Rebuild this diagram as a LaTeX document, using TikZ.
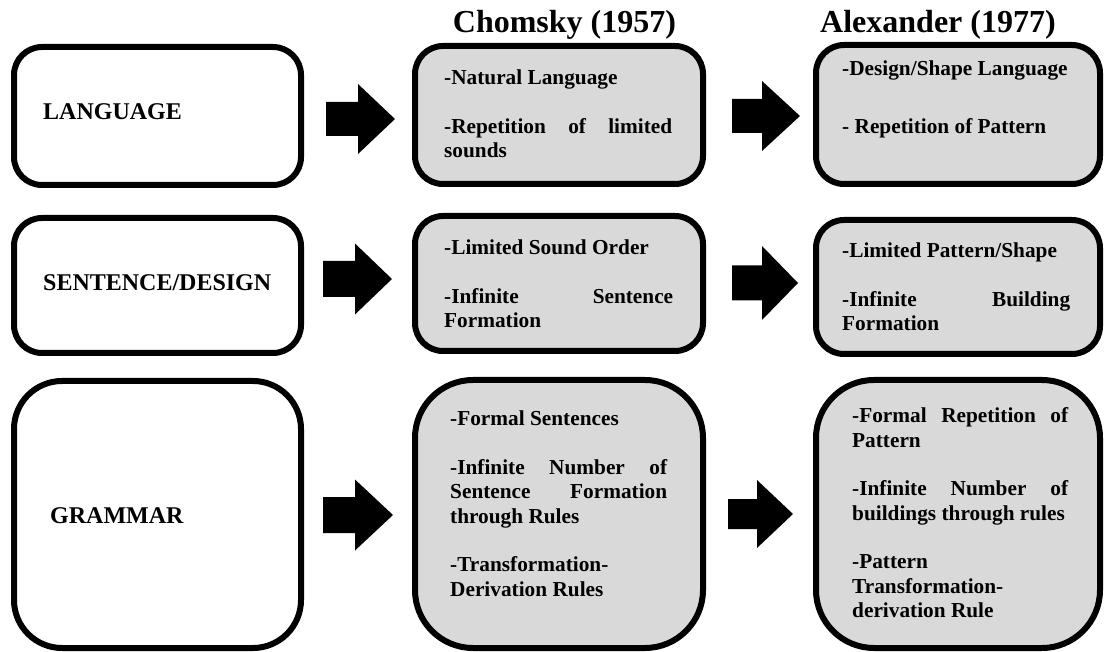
\documentclass[tikz,border=0pt]{standalone}
\usepackage{fontspec}
\setmainfont{Liberation Serif}
\tolerance=10000
\hbadness=10000
\hyphenpenalty=10000

\tikzset{
  panel/.style={draw=black, line width=6pt, rounded corners=#1, inner sep=0pt, outer sep=0pt},
  plainpanel/.style={panel=#1, fill=white},
  shadedpanel/.style={panel=#1, fill=black!15},
  heading/.style={anchor=base, inner sep=0pt, font=\fontsize{32}{36}\selectfont\bfseries},
  rowlabel/.style={anchor=base west, inner sep=0pt, font=\fontsize{24}{28}\selectfont\bfseries},
  points/.style={anchor=base west, inner sep=0pt, text width=#1, align=justify,
                 font=\fontsize{21.3}{24.5}\selectfont\bfseries},
  blockarrow/.style={fill=black},
}

% rounded panel: name, style, x1, y1, x2, y2 (centre line of the border)
\newcommand\panelbox[6]{%
  \node[#2, minimum width={(#5-#3)*1pt}, minimum height={(#6-#4)*1pt}]
    (#1) at ({(#3+#5)/2},{(#4+#6)/2}) {};}

% thick block arrow: tail x, head base x, tip x, centre y, half shaft, half head
\newcommand\blockarrow[6]{%
  \fill[blockarrow] (#1,#4-#5) -- (#2,#4-#5) -- (#2,#4-#6) -- (#3,#4)
    -- (#2,#4+#6) -- (#2,#4+#5) -- (#1,#4+#5) -- cycle;}

\begin{document}
\begin{tikzpicture}[x=1pt, y=-1pt]
  \useasboundingbox (0,0) rectangle (1104,652);
  \fill[white] (0,0) rectangle (1104,652);

  % column headings
  \node[heading] (hchomsky) at (564.5,33) {Chomsky (1957)};
  \node[heading] (halex) at (938,33) {Alexander (1977)};

  % left column
  \panelbox{lang}{plainpanel=28pt}{14}{47}{301}{185}
  \panelbox{sent}{plainpanel=28pt}{14}{218}{301}{353}
  \panelbox{gram}{plainpanel=48pt}{14}{381}{301}{648}

  % Chomsky column
  \panelbox{c1}{shadedpanel=28pt}{415}{46}{703}{184}
  \panelbox{c2}{shadedpanel=28pt}{415}{216}{703}{351}
  \panelbox{c3}{shadedpanel=58pt}{415}{380}{703}{648}

  % Alexander column
  \panelbox{a1}{shadedpanel=28pt}{816}{45}{1100}{184}
  \panelbox{a2}{shadedpanel=28pt}{816}{220}{1100}{354}
  \panelbox{a3}{shadedpanel=58pt}{816}{380}{1100}{648}

  % arrows between the columns
  \blockarrow{326}{358}{395}{119}{17}{35}
  \blockarrow{732}{762}{800}{116}{17}{35}
  \blockarrow{323}{355}{392}{279}{18}{35.5}
  \blockarrow{732}{762}{798}{283}{17.5}{37}
  \blockarrow{323}{355}{393}{515}{18}{35.5}
  \blockarrow{728}{757}{793}{514}{15}{34}

  % row labels
  \node[rowlabel] (tlang) at (43,120) {LANGUAGE};
  \node[rowlabel] (tsent) at (43,291) {SENTENCE/DESIGN};
  \node[rowlabel] (tgram) at (50,523) {GRAMMAR};

  % Chomsky points
  \node[points=228pt] (tc1) at (444,85)
    {\parskip=24pt -Natural Language\par -Repetition of limited\linebreak sounds};
  \node[points=229pt] (tc2) at (444,255)
    {\parskip=24pt -Limited Sound Order\par -Infinite Sentence\linebreak Formation};
  \node[points=217pt] (tc3) at (450,426)
    {\parskip=24pt -Formal Sentences\par
     -Infinite Number of\linebreak Sentence Formation\linebreak through Rules\par
     -Transformation-\linebreak Derivation Rules};

  % Alexander points
  \node[points=230pt] (ta1) at (842,76)
    {\parskip=33pt -Design/Shape Language\par - Repetition of Pattern};
  \node[points=228pt] (ta2) at (842,258)
    {\parskip=24pt -Limited Pattern/Shape\par -Infinite Building\linebreak Formation};
  \node[points=216pt] (ta3) at (852,423)
    {\parskip=24pt -Formal Repetition of\linebreak Pattern\par
     -Infinite Number of\linebreak buildings through rules\par
     -Pattern\linebreak Transformation-\linebreak derivation Rule};
\end{tikzpicture}
\end{document}
